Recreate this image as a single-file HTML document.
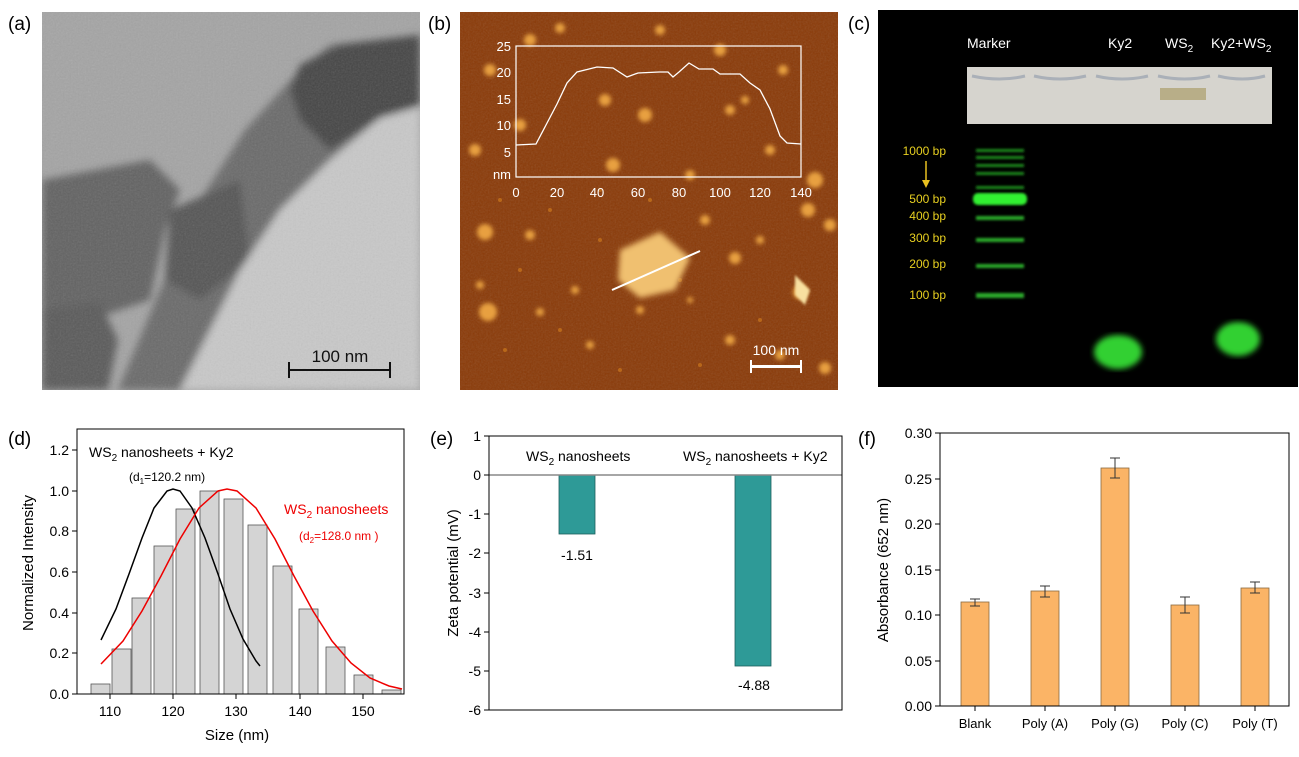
<!DOCTYPE html>
<html><head><meta charset="utf-8"><style>
html,body{margin:0;padding:0;background:#fff;}
svg{display:block;font-family:"Liberation Sans",sans-serif;}
</style></head><body>
<svg width="1299" height="757" viewBox="0 0 1299 757" xmlns="http://www.w3.org/2000/svg">
<defs>
<filter id="bl3"><feGaussianBlur stdDeviation="3"/></filter>
<filter id="bl6"><feGaussianBlur stdDeviation="4"/></filter>
<filter id="bl1"><feGaussianBlur stdDeviation="1.2"/></filter>
<filter id="bl2"><feGaussianBlur stdDeviation="2"/></filter>
<filter id="noise" x="0" y="0" width="100%" height="100%"><feTurbulence type="fractalNoise" baseFrequency="0.6" numOctaves="2" seed="3"/><feColorMatrix type="saturate" values="0"/></filter>
<clipPath id="ca"><rect x="42" y="12" width="378" height="378"/></clipPath>
<clipPath id="cb"><rect x="460" y="12" width="378" height="378"/></clipPath>
</defs>

<!-- (a) TEM -->
<text x="8" y="30" font-size="19">(a)</text>
<g clip-path="url(#ca)">
<rect x="42" y="12" width="378" height="378" fill="#a4a4a4"/>
<g filter="url(#bl6)">
<polygon points="42,180 150,160 180,190 165,230 150,300 90,320 42,330" fill="#626262"/>
<polygon points="42,310 100,302 118,340 108,390 42,390" fill="#5a5a5a"/>
<polygon points="118,390 160,290 200,200 245,130 300,70 330,45 420,35 420,105 380,118 330,160 280,210 240,270 205,340 180,390" fill="#6a6a6a"/>
<polygon points="300,65 340,45 420,35 420,105 380,118 330,150 300,120 290,90" fill="#444"/>
<polygon points="170,210 240,180 250,260 200,300 165,280" fill="#555"/>
<polygon points="380,125 420,130 420,210 390,215 360,180" fill="#5a5a5a"/>
<polygon points="180,390 205,340 240,270 280,210 330,160 380,118 420,108 420,390" fill="#c8c8c8"/>
</g>
<rect x="42" y="12" width="378" height="378" filter="url(#noise)" opacity="0.18"/>
<rect x="288" y="369" width="103" height="2" fill="#111"/>
<rect x="288" y="362" width="2" height="16" fill="#111"/>
<rect x="389" y="362" width="2" height="16" fill="#111"/>
<text x="340" y="362" font-size="17" text-anchor="middle" fill="#111">100 nm</text>
</g>

<!-- (b) AFM -->
<text x="428" y="30" font-size="19">(b)</text>
<g clip-path="url(#cb)">
<rect x="460" y="12" width="378" height="378" fill="#8a3a08"/>
<rect x="460" y="12" width="378" height="378" filter="url(#noise)" opacity="0.15"/>
<g filter="url(#bl2)" fill="#e8a040">
<circle cx="530" cy="40" r="6"/><circle cx="560" cy="28" r="5"/><circle cx="660" cy="30" r="5"/><circle cx="720" cy="50" r="6"/><circle cx="745" cy="100" r="4"/>
<circle cx="490" cy="70" r="6"/><circle cx="605" cy="100" r="6"/><circle cx="645" cy="115" r="7"/><circle cx="730" cy="110" r="5"/>
<circle cx="520" cy="125" r="6"/><circle cx="475" cy="150" r="6"/><circle cx="613" cy="165" r="7"/><circle cx="690" cy="175" r="5"/>
<circle cx="770" cy="150" r="5"/><circle cx="783" cy="70" r="5"/><circle cx="815" cy="180" r="8"/><circle cx="808" cy="210" r="7"/><circle cx="830" cy="225" r="6"/>
<circle cx="485" cy="232" r="8"/><circle cx="530" cy="235" r="5"/><circle cx="705" cy="220" r="5"/><circle cx="735" cy="258" r="6"/>
<circle cx="800" cy="292" r="7"/><circle cx="488" cy="312" r="9"/><circle cx="540" cy="312" r="4"/><circle cx="730" cy="340" r="5"/>
<circle cx="780" cy="355" r="5"/><circle cx="825" cy="368" r="6"/><circle cx="590" cy="345" r="4"/><circle cx="640" cy="310" r="4"/>
<circle cx="480" cy="285" r="4"/><circle cx="575" cy="290" r="4"/><circle cx="690" cy="300" r="3"/><circle cx="760" cy="240" r="4"/>
</g>
<g fill="#c2701c" opacity="0.8">
<circle cx="500" cy="200" r="2"/><circle cx="550" cy="210" r="2"/><circle cx="600" cy="240" r="2"/><circle cx="520" cy="270" r="2"/><circle cx="680" cy="280" r="2"/><circle cx="620" cy="370" r="2"/><circle cx="700" cy="365" r="2"/><circle cx="760" cy="320" r="2"/><circle cx="560" cy="330" r="2"/><circle cx="505" cy="350" r="2"/><circle cx="650" cy="200" r="2"/><circle cx="600" cy="190" r="2"/>
</g>
<polygon points="620,250 660,232 690,258 675,290 640,298 618,280" fill="#f0c070" filter="url(#bl3)"/>
<polygon points="795,275 810,290 805,305 795,295" fill="#f8e0a0" filter="url(#bl1)"/>
<line x1="612" y1="290" x2="700" y2="251" stroke="#fff" stroke-width="2"/>
<rect x="750" y="365" width="52" height="3" fill="#fff"/>
<rect x="750" y="360" width="2" height="13" fill="#fff"/>
<rect x="800" y="360" width="2" height="13" fill="#fff"/>
<text x="776" y="355" font-size="14" text-anchor="middle" fill="#fff">100 nm</text>
<rect x="516" y="46" width="285" height="131" fill="none" stroke="#fff" stroke-width="1.2"/>
<g fill="#fff" font-size="13" text-anchor="end">
<text x="511" y="51">25</text><text x="511" y="77">20</text><text x="511" y="104">15</text><text x="511" y="130">10</text><text x="511" y="157">5</text><text x="511" y="179">nm</text>
</g>
<g fill="#fff" font-size="13" text-anchor="middle">
<text x="516" y="197">0</text><text x="557" y="197">20</text><text x="597" y="197">40</text><text x="638" y="197">60</text><text x="679" y="197">80</text><text x="720" y="197">100</text><text x="760" y="197">120</text><text x="801" y="197">140</text>
</g>
<polyline fill="none" stroke="#fff" stroke-width="1.3" points="516,145 536,144 546,125 557,104 567,83 577,72 597,67 613,68 627,77 638,73 659,72 668,72 673,77 679,72 689,63 699,69 713,69 720,74 740,74 750,83 760,90 770,109 780,136 787,143 801,144"/>
</g>

<!-- (c) Gel -->
<text x="848" y="30" font-size="19">(c)</text>
<rect x="878" y="10" width="420" height="377" fill="#000"/>
<g fill="#fff" font-size="14">
<text x="967" y="48">Marker</text><text x="1108" y="48">Ky2</text>
<text x="1165" y="48">WS<tspan font-size="10" dy="4">2</tspan></text>
<text x="1211" y="48">Ky2+WS<tspan font-size="10" dy="4">2</tspan></text>
</g>
<rect x="967" y="67" width="305" height="57" fill="#d6d4ce"/>
<g fill="none" stroke="#aab0b8" stroke-width="3">
<path d="M972 76 Q1000 82 1025 76"/><path d="M1034 76 Q1060 82 1086 76"/><path d="M1096 76 Q1122 82 1148 76"/><path d="M1158 76 Q1185 82 1210 76"/><path d="M1218 76 Q1243 82 1265 76"/>
</g>
<rect x="1160" y="88" width="46" height="12" fill="#b8ae88"/>
<g fill="#e8d020" font-size="12" text-anchor="end">
<text x="946" y="155">1000 bp</text><text x="946" y="203">500 bp</text><text x="946" y="220">400 bp</text><text x="946" y="242">300 bp</text><text x="946" y="268">200 bp</text><text x="946" y="299">100 bp</text>
</g>
<line x1="926" y1="161" x2="926" y2="182" stroke="#e8c020" stroke-width="1.5"/>
<polygon points="922,180 930,180 926,188" fill="#e8c020"/>
<g fill="#1a8a1a" filter="url(#bl1)">
<rect x="976" y="149" width="48" height="3"/><rect x="976" y="156" width="48" height="3"/><rect x="976" y="164" width="48" height="3"/><rect x="976" y="172" width="48" height="3"/><rect x="976" y="186" width="48" height="3"/>
<rect x="976" y="216" width="48" height="4" fill="#2aa82a"/><rect x="976" y="238" width="48" height="4" fill="#2aa82a"/><rect x="976" y="264" width="48" height="4" fill="#2aa82a"/><rect x="976" y="293" width="48" height="5" fill="#2aa82a"/>
</g>
<rect x="973" y="193" width="54" height="12" rx="5" fill="#30f030" filter="url(#bl1)"/>
<ellipse cx="1118" cy="352" rx="24" ry="17" fill="#30d030" filter="url(#bl3)"/>
<ellipse cx="1238" cy="339" rx="22" ry="17" fill="#30d030" filter="url(#bl3)"/>

<!-- (d) -->
<text x="8" y="445" font-size="19">(d)</text>
<g fill="#d4d4d4" stroke="#555" stroke-width="0.8">
<rect x="91" y="684" width="19" height="10"/><rect x="112" y="649" width="19" height="45"/><rect x="132" y="598" width="19" height="96"/>
<rect x="154" y="546" width="19" height="148"/><rect x="176" y="509" width="19" height="185"/><rect x="200" y="491" width="19" height="203"/>
<rect x="224" y="499" width="19" height="195"/><rect x="248" y="525" width="19" height="169"/><rect x="273" y="566" width="19" height="128"/>
<rect x="299" y="609" width="19" height="85"/><rect x="326" y="647" width="19" height="47"/><rect x="354" y="675" width="19" height="19"/><rect x="382" y="690" width="19" height="4"/>
</g>
<polyline fill="none" stroke="#000" stroke-width="1.5" points="101,640 116,609 129,574 142,538 154,508 167,491 173,489 180,491 192,508 205,538 218,574 230,609 243,639 256,661 260,666"/>
<polyline fill="none" stroke="#e00" stroke-width="1.5" points="101,664 123,641 142,611 161,576 180,539 199,508 218,491 227,489 237,491 256,508 275,539 294,576 313,611 332,641 351,663 370,678 389,686 402,689"/>
<rect x="77" y="429" width="327" height="265" fill="none" stroke="#000" stroke-width="1"/>
<g stroke="#000" stroke-width="1">
<line x1="72" y1="694" x2="77" y2="694"/><line x1="72" y1="653" x2="77" y2="653"/><line x1="72" y1="613" x2="77" y2="613"/><line x1="72" y1="572" x2="77" y2="572"/><line x1="72" y1="531" x2="77" y2="531"/><line x1="72" y1="491" x2="77" y2="491"/><line x1="72" y1="450" x2="77" y2="450"/>
<line x1="110" y1="694" x2="110" y2="699"/><line x1="173" y1="694" x2="173" y2="699"/><line x1="236" y1="694" x2="236" y2="699"/><line x1="300" y1="694" x2="300" y2="699"/><line x1="363" y1="694" x2="363" y2="699"/>
</g>
<g font-size="14" text-anchor="end">
<text x="69" y="699">0.0</text><text x="69" y="658">0.2</text><text x="69" y="618">0.4</text><text x="69" y="577">0.6</text><text x="69" y="536">0.8</text><text x="69" y="496">1.0</text><text x="69" y="455">1.2</text>
</g>
<g font-size="14" text-anchor="middle">
<text x="110" y="716">110</text><text x="173" y="716">120</text><text x="236" y="716">130</text><text x="300" y="716">140</text><text x="363" y="716">150</text>
<text x="237" y="740" font-size="15">Size (nm)</text>
</g>
<text transform="translate(33,563) rotate(-90)" font-size="15" text-anchor="middle">Normalized Intensity</text>
<text x="89" y="457" font-size="14">WS<tspan font-size="10" dy="4">2</tspan><tspan dy="-4"> nanosheets + Ky2</tspan></text>
<text x="129" y="481" font-size="12">(d<tspan font-size="8" dy="3">1</tspan><tspan dy="-3">=120.2 nm)</tspan></text>
<text x="284" y="514" font-size="14" fill="#e00">WS<tspan font-size="10" dy="4">2</tspan><tspan dy="-4"> nanosheets</tspan></text>
<text x="299" y="540" font-size="12" fill="#e00">(d<tspan font-size="8" dy="3">2</tspan><tspan dy="-3">=128.0 nm )</tspan></text>

<!-- (e) -->
<text x="430" y="445" font-size="19">(e)</text>
<rect x="559" y="475" width="36" height="59" fill="#2e9a97" stroke="#1d5f5c" stroke-width="0.8"/>
<rect x="735" y="475" width="36" height="191" fill="#2e9a97" stroke="#1d5f5c" stroke-width="0.8"/>
<line x1="489" y1="475" x2="842" y2="475" stroke="#888" stroke-width="1.5"/>
<rect x="489" y="436" width="353" height="274" fill="none" stroke="#000" stroke-width="1"/>
<g stroke="#000" stroke-width="1">
<line x1="484" y1="436" x2="489" y2="436"/><line x1="484" y1="475" x2="489" y2="475"/><line x1="484" y1="514" x2="489" y2="514"/><line x1="484" y1="553" x2="489" y2="553"/><line x1="484" y1="593" x2="489" y2="593"/><line x1="484" y1="632" x2="489" y2="632"/><line x1="484" y1="671" x2="489" y2="671"/><line x1="484" y1="710" x2="489" y2="710"/>
</g>
<g font-size="14" text-anchor="end">
<text x="481" y="441">1</text><text x="481" y="480">0</text><text x="481" y="519">-1</text><text x="481" y="558">-2</text><text x="481" y="598">-3</text><text x="481" y="637">-4</text><text x="481" y="676">-5</text><text x="481" y="715">-6</text>
</g>
<text transform="translate(458,573) rotate(-90)" font-size="15" text-anchor="middle">Zeta potential (mV)</text>
<text x="526" y="461" font-size="14">WS<tspan font-size="10" dy="4">2</tspan><tspan dy="-4"> nanosheets</tspan></text>
<text x="683" y="461" font-size="14">WS<tspan font-size="10" dy="4">2</tspan><tspan dy="-4"> nanosheets + Ky2</tspan></text>
<text x="577" y="560" font-size="14" text-anchor="middle">-1.51</text>
<text x="754" y="690" font-size="14" text-anchor="middle">-4.88</text>

<!-- (f) -->
<text x="858" y="445" font-size="19">(f)</text>
<g fill="#fbb466" stroke="#8a6a40" stroke-width="0.8">
<rect x="961" y="602" width="28" height="104"/><rect x="1031" y="591" width="28" height="115"/><rect x="1101" y="468" width="28" height="238"/><rect x="1171" y="605" width="28" height="101"/><rect x="1241" y="588" width="28" height="118"/>
</g>
<g stroke="#333" stroke-width="1" fill="none">
<path d="M975 599V606M970 599H980M970 606H980"/>
<path d="M1045 586V597M1040 586H1050M1040 597H1050"/>
<path d="M1115 458V478M1110 458H1120M1110 478H1120"/>
<path d="M1185 597V613M1180 597H1190M1180 613H1190"/>
<path d="M1255 582V593M1250 582H1260M1250 593H1260"/>
</g>
<rect x="940" y="433" width="349" height="273" fill="none" stroke="#000" stroke-width="1"/>
<g stroke="#000" stroke-width="1">
<line x1="935" y1="433" x2="940" y2="433"/><line x1="935" y1="479" x2="940" y2="479"/><line x1="935" y1="524" x2="940" y2="524"/><line x1="935" y1="570" x2="940" y2="570"/><line x1="935" y1="615" x2="940" y2="615"/><line x1="935" y1="661" x2="940" y2="661"/><line x1="935" y1="706" x2="940" y2="706"/>
<line x1="975" y1="706" x2="975" y2="711"/><line x1="1045" y1="706" x2="1045" y2="711"/><line x1="1115" y1="706" x2="1115" y2="711"/><line x1="1185" y1="706" x2="1185" y2="711"/><line x1="1255" y1="706" x2="1255" y2="711"/>
</g>
<g font-size="14" text-anchor="end">
<text x="932" y="438">0.30</text><text x="932" y="484">0.25</text><text x="932" y="529">0.20</text><text x="932" y="575">0.15</text><text x="932" y="620">0.10</text><text x="932" y="666">0.05</text><text x="932" y="711">0.00</text>
</g>
<g font-size="13" text-anchor="middle">
<text x="975" y="728">Blank</text><text x="1045" y="728">Poly (A)</text><text x="1115" y="728">Poly (G)</text><text x="1185" y="728">Poly (C)</text><text x="1255" y="728">Poly (T)</text>
</g>
<text transform="translate(888,570) rotate(-90)" font-size="15" text-anchor="middle">Absorbance (652 nm)</text>
</svg>
</body></html>
